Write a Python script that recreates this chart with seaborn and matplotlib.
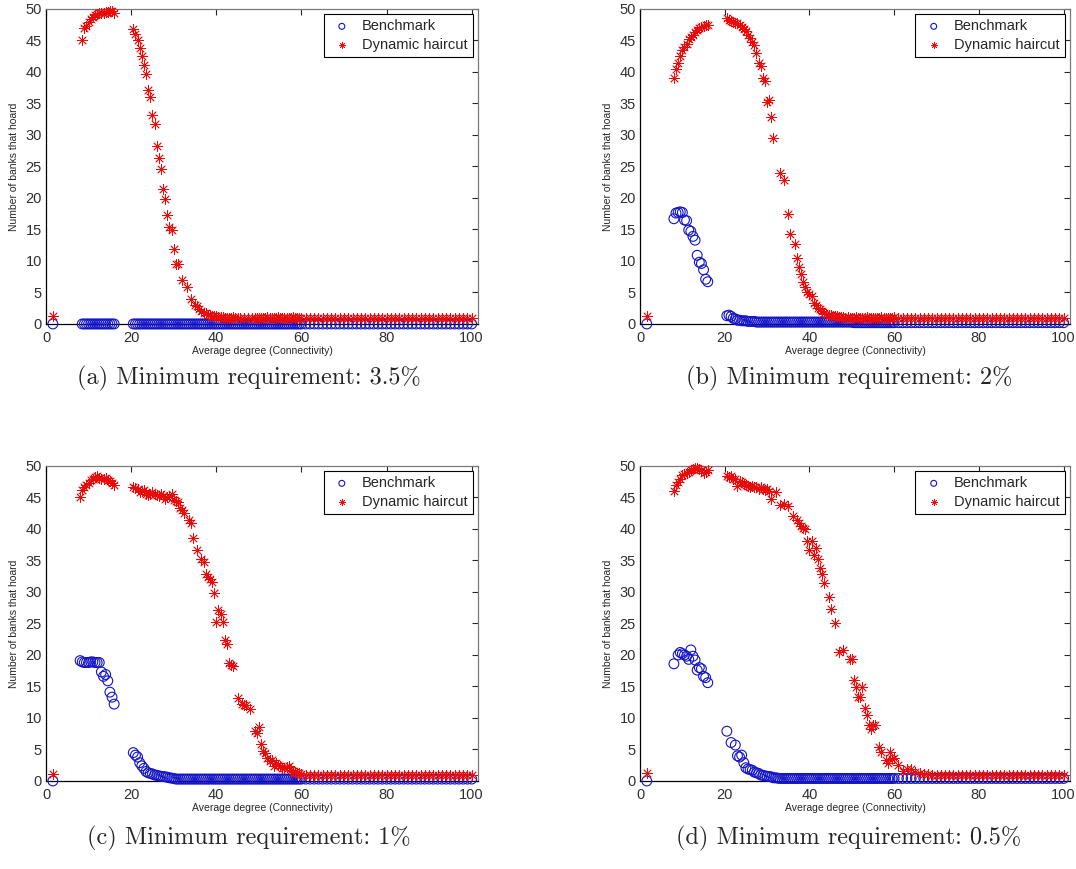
"""
Hoarding vs. connectivity: four runs with different minimum requirements.
Benchmark (circles) vs dynamic haircut (asterisks), one panel per run.
"""

import numpy as np
import matplotlib
matplotlib.use('Agg')
import matplotlib.pyplot as plt
import seaborn as sns

nan = np.nan

# =========================================================================
# Data (read off the reference picture; nan = no observation at that degree)
# =========================================================================
degree = [
    1.6,
    8.0, 8.5, 9.0, 9.5, 10.0, 10.5, 11.0, 11.5, 12.0, 12.5, 13.0, 13.5, 14.0, 14.5, 15.0, 15.5, 16.0,
    20.5, 21.0, 21.5, 22.0, 22.5, 23.0, 23.5, 24.0, 24.5, 25.0,
    25.5, 26.0, 26.5, 27.0, 27.5, 28.0, 28.5, 29.0, 29.5, 30.0,
    30.5, 31.0, 31.5, 32.0, 32.5, 33.0, 33.5, 34.0, 34.5, 35.0,
    35.5, 36.0, 36.5, 37.0, 37.5, 38.0, 38.5, 39.0, 39.5, 40.0,
    40.5, 41.0, 41.5, 42.0, 42.5, 43.0, 43.5, 44.0, 44.5, 45.0,
    45.5, 46.0, 46.5, 47.0, 47.5, 48.0, 48.5, 49.0, 49.5, 50.0,
    50.5, 51.0, 51.5, 52.0, 52.5, 53.0, 53.5, 54.0, 54.5, 55.0,
    55.5, 56.0, 56.5, 57.0, 57.5, 58.0, 58.5, 59.0, 59.5, 60.0,
    61, 62, 63, 64, 65, 66, 67, 68, 69, 70,
    71, 72, 73, 74, 75, 76, 77, 78, 79, 80,
    81, 82, 83, 84, 85, 86, 87, 88, 89, 90,
    91, 92, 93, 94, 95, 96, 97, 98, 99, 100,
]

# (a) minimum requirement 3.5%
bench_a = [
    0.0,
    nan, 0, 0, 0, 0, 0, 0, 0, 0, 0, 0, 0, 0, 0, 0, 0, 0,
    0, 0, 0, 0, 0, 0, 0, 0, 0, 0,
    0, 0, 0, 0, 0, 0, 0, 0, 0, 0,
    0, 0, 0, 0, 0, 0, 0, 0, 0, 0,
    0, 0, 0, 0, 0, 0, 0, 0, 0, 0,
    0, 0, 0, 0, 0, 0, 0, 0, 0, 0,
    0, 0, 0, 0, 0, 0, 0, 0, 0, 0,
    0, 0, 0, 0, 0, 0, 0, 0, 0, 0,
    0, 0, 0, 0, 0, 0, 0, 0, 0, 0,
    0, 0, 0, 0, 0, 0, 0, 0, 0, 0,
    0, 0, 0, 0, 0, 0, 0, 0, 0, 0,
    0, 0, 0, 0, 0, 0, 0, 0, 0, 0,
    0, 0, 0, 0, 0, 0, 0, 0, 0, 0,
]
haircut_a = [
    1.2,
    nan, 45.0, 46.9, 47.3, 47.9, 48.4, 48.8, 49.0, 49.2, 49.3, 49.4, 49.4, 49.5, 49.5, 49.6, 49.6, 49.4,
    46.8, 46.0, 45.0, 43.8, 42.5, 41.1, 39.6, 37.2, 36.1, 33.1,
    31.8, 28.2, 26.3, 24.6, 21.5, 19.8, 17.3, 15.4, 14.9, 11.9,
    9.5, 9.5, nan, 6.9, nan, 5.9, nan, 4.0, nan, 3.0,
    2.8, 2.4, 2.0, 1.8, 1.7, 1.5, 1.4, 1.3, 1.2, 1.2,
    1.1, 1.1, 1.1, 1.0, 1.0, 1.0, 1.0, 1.1, 1.0, 1.0,
    1.0, nan, 1.0, nan, 1.0, nan, 1.0, 1.0, 1.0, 1.0,
    1.0, 1.0, 1.0, 1.1, 1.0, 1.0, 1.0, 1.0, 1.1, 1.0,
    1.0, 1.0, 1.0, 1.0, 1.0, 1.1, 1.0, 1.0, 1.0, 1.0,
    1.0, 1.0, 1.0, 1.0, 1.0, 1.0, 1.0, 1.0, 1.0, 1.0,
    1.0, 1.0, 1.0, 1.0, 1.0, 1.0, 1.0, 1.0, 1.0, 1.0,
    1.0, 1.0, 1.0, 1.0, 1.0, 1.0, 1.0, 1.0, 1.0, 1.0,
    1.0, 1.0, 1.0, 1.0, 1.0, 1.0, 1.0, 1.0, 1.0, 1.0,
]

# (b) minimum requirement 2%
bench_b = [
    0.0,
    16.7, 17.6, 17.7, 17.8, 17.7, 16.5, 16.4, 14.9, 14.7, 13.9, 13.3, 10.9, 9.8, 9.6, 8.6, 7.1, 6.7,
    1.3, 1.4, 1.2, 0.9, 0.8, 0.6, 0.6, 0.5, 0.5, 0.5,
    0.4, 0.4, 0.4, 0.4, 0.3, 0.3, 0.3, 0.3, 0.3, 0.3,
    0.3, 0.3, 0.3, 0.3, 0.3, 0.3, 0.3, 0.3, 0.3, 0.3,
    0.3, 0.3, 0.3, 0.3, 0.3, 0.3, 0.3, 0.3, 0.3, 0.3,
    0.3, 0.3, 0.3, 0.3, 0.3, 0.3, 0.3, 0.3, 0.3, 0.3,
    0.3, 0.3, 0.3, 0.3, 0.3, 0.3, 0.3, 0.3, 0.3, 0.3,
    0.2, 0.2, 0.2, 0.2, 0.2, 0.2, 0.2, 0.2, 0.2, 0.2,
    0.2, 0.2, 0.2, 0.2, 0.2, 0.2, 0.2, 0.2, 0.2, 0.2,
    0.2, 0.2, 0.2, 0.2, 0.2, 0.2, 0.2, 0.2, 0.2, 0.2,
    0.2, 0.2, 0.2, 0.2, 0.2, 0.2, 0.2, 0.2, 0.2, 0.2,
    0.2, 0.2, 0.2, 0.2, 0.2, 0.2, 0.2, 0.2, 0.2, 0.2,
    0.2, 0.2, 0.2, 0.2, 0.2, 0.2, 0.2, 0.2, 0.2, 0.2,
]
haircut_b = [
    1.2,
    39.1, 40.5, 41.4, 42.6, 43.5, 43.9, 44.5, 45.2, 45.5, 45.9, 46.3, 46.7, 46.9, 47.1, 47.3, 47.4, 47.5,
    48.5, 48.2, 48.1, 47.9, 47.8, 47.7, 47.5, 47.1, 46.8, 46.5,
    45.8, 45.4, 44.8, 44.2, 43.0, 41.5, 41.0, 39.1, 38.5, 35.3,
    35.5, 32.9, 29.5, nan, nan, 23.9, nan, 22.9, nan, 17.4,
    14.2, nan, 12.7, 10.4, 9.1, 7.9, 6.7, 5.9, 5.0, 4.8,
    4.5, 3.3, 3.0, 2.5, 2.3, 2.0, 1.8, 1.6, 1.5, 1.4,
    1.3, 1.2, 1.2, 1.1, 1.1, 1.1, 1.0, 1.1, 1.0, 1.0,
    1.0, 1.1, 1.0, 1.0, 1.0, 1.0, 1.1, 1.0, 1.0, 1.0,
    1.0, 1.0, 1.0, 1.1, 1.0, 1.0, 1.0, 1.0, 1.0, 1.1,
    1.0, 1.0, 1.0, 1.0, 1.0, 1.0, 1.0, 1.0, 1.0, 1.0,
    1.0, 1.0, 1.0, 1.0, 1.0, 1.0, 1.0, 1.0, 1.0, 1.0,
    1.0, 1.0, 1.0, 1.0, 1.0, 1.0, 1.0, 1.0, 1.0, 1.0,
    1.0, 1.0, 1.0, 1.0, 1.0, 1.0, 1.0, 1.0, 1.0, 1.0,
]

# (c) minimum requirement 1%
bench_c = [
    0.0,
    19.1, 18.9, 18.8, 18.8, 18.8, 18.9, 18.9, 18.8, 18.8, 18.8, 17.3, 16.6, 16.9, 15.9, 14.1, 13.3, 12.2,
    4.5, 4.1, 3.8, 2.9, 2.4, 2.0, 1.5, 1.3, 1.2, 1.1,
    0.95, 0.9, 0.8, 0.75, 0.7, 0.65, 0.6, 0.5, 0.45, 0.4,
    0.3, 0.3, 0.3, 0.3, 0.3, 0.3, 0.3, 0.3, 0.3, 0.3,
    0.3, 0.3, 0.3, 0.3, 0.3, 0.3, 0.3, 0.3, 0.3, 0.3,
    0.3, 0.3, 0.3, 0.3, 0.3, 0.3, 0.3, 0.3, 0.3, 0.3,
    0.3, 0.3, 0.3, 0.3, 0.3, 0.3, 0.3, 0.3, 0.3, 0.3,
    0.3, 0.3, 0.3, 0.3, 0.3, 0.3, 0.3, 0.3, 0.3, 0.3,
    0.3, 0.3, 0.3, 0.3, 0.3, 0.3, 0.3, 0.3, 0.3, 0.3,
    0.3, 0.3, 0.3, 0.3, 0.3, 0.3, 0.3, 0.3, 0.3, 0.3,
    0.3, 0.3, 0.3, 0.3, 0.3, 0.3, 0.3, 0.3, 0.3, 0.3,
    0.3, 0.3, 0.3, 0.3, 0.3, 0.3, 0.3, 0.3, 0.3, 0.3,
    0.3, 0.3, 0.3, 0.3, 0.3, 0.3, 0.3, 0.3, 0.3, 0.3,
]
haircut_c = [
    1.1,
    45.0, 46.2, 46.6, 46.9, 47.3, 47.7, 48.0, 48.2, 48.4, 48.1, 47.9, 47.9, 48.1, 47.7, 47.6, 47.3, 46.9,
    46.6, 46.5, 46.3, 45.9, 46.0, 46.2, 45.6, 45.4, 45.6, 45.9,
    45.6, 45.4, 45.2, 45.5, 45.2, 44.8, 45.1, 45.3, 45.5, 44.6,
    44.4, 44.2, 43.3, 43.0, 42.5, nan, 41.5, 41.0, 38.5, nan,
    36.7, nan, 35.3, 34.8, 32.8, 32.4, 32.1, 31.6, 29.8, 25.2,
    27.1, 26.5, 25.2, 22.3, 21.8, 18.7, 18.4, 18.2, nan, 13.1,
    nan, 12.2, 12.1, 12.0, nan, 11.4, nan, 7.9, 7.6, 8.6,
    5.8, 4.7, 4.4, 3.7, 3.1, 3.3, 2.3, 2.8, 2.5, 2.3,
    2.1, 2.0, 2.2, 2.3, 1.7, 1.6, 1.5, 1.3, 1.2, 1.1,
    1.0, 1.0, 1.0, 1.0, 1.0, 1.0, 1.0, 1.0, 1.0, 1.0,
    1.0, 1.0, 1.0, 1.0, 1.0, 1.0, 1.0, 1.0, 1.0, 1.0,
    1.0, 1.0, 1.0, 1.0, 1.0, 1.0, 1.0, 1.0, 1.0, 1.0,
    1.0, 1.0, 1.0, 1.0, 1.0, 1.0, 1.0, 1.0, 1.0, 1.0,
]

# (d) minimum requirement 0.5%
bench_d = [
    0.0,
    18.6, nan, 20.0, 20.4, 20.2, 20.0, 19.8, 19.3, 20.8, 19.8, 19.2, 17.6, 18.0, 17.8, 16.6, 16.4, 15.6,
    7.9, nan, 6.1, nan, 5.7, 4.0, 3.8, 4.1, 2.9, 2.1,
    1.9, 1.8, 1.7, 1.4, 1.3, 1.2, 0.95, 0.9, 0.8, 0.75,
    0.7, 0.65, 0.5, 0.5, 0.45, 0.4, 0.4, 0.4, 0.4, 0.4,
    0.4, 0.4, 0.4, 0.4, 0.4, 0.4, 0.4, 0.4, 0.4, 0.4,
    0.4, 0.4, 0.4, 0.4, 0.4, 0.4, 0.4, 0.4, 0.4, 0.4,
    0.4, 0.4, 0.4, 0.4, 0.4, 0.4, 0.4, 0.4, 0.4, 0.4,
    0.4, 0.4, 0.4, 0.4, 0.4, 0.4, 0.4, 0.4, 0.4, 0.4,
    0.4, 0.4, 0.4, 0.4, 0.4, 0.4, 0.4, 0.4, 0.4, 0.4,
    0.4, 0.4, 0.4, 0.4, 0.4, 0.4, 0.4, 0.4, 0.4, 0.4,
    0.4, 0.4, 0.4, 0.4, 0.4, 0.4, 0.4, 0.4, 0.4, 0.4,
    0.4, 0.4, 0.4, 0.4, 0.4, 0.4, 0.4, 0.4, 0.4, 0.4,
    0.4, 0.4, 0.4, 0.4, 0.4, 0.4, 0.4, 0.4, 0.4, 0.4,
]
haircut_d = [
    1.2,
    46.0, 47.0, 47.5, 48.0, 48.5, 48.8, 48.9, 49.1, 49.3, 49.5, 49.7, 49.6, 49.5, 49.3, 48.9, 49.1, 49.3,
    48.4, 48.3, 48.4, 48.0, 47.9, 46.8, 47.6, 47.4, 47.1, 46.9,
    46.8, 46.6, 46.8, 46.7, 46.6, 46.3, 46.7, 46.4, 46.2, 46.3,
    46.1, 44.7, nan, 45.8, nan, 43.8, nan, 43.9, nan, 43.6,
    nan, 42.0, nan, 41.5, 41.0, 40.4, 40.1, 40.0, 38.1, 36.7,
    38.1, 35.8, 36.9, 35.2, 33.8, 32.9, 31.5, nan, 29.2, 27.3,
    nan, 25.1, nan, 20.4, nan, 20.8, nan, nan, 19.3, 19.3,
    16.1, 14.9, 13.4, 13.3, 14.9, 11.6, 10.4, 8.9, 8.3, 8.9,
    8.9, nan, 5.4, 4.6, nan, 3.3, 2.9, 4.6, 3.5, 3.6,
    2.5, 1.6, 1.9, 1.9, 1.5, 1.2, 1.1, 1.1, 1.0, 1.0,
    1.0, 1.0, 1.0, 1.0, 1.0, 1.0, 1.0, 1.0, 1.0, 1.0,
    1.0, 1.0, 1.0, 1.0, 1.0, 1.0, 1.0, 1.0, 1.0, 1.0,
    1.0, 1.0, 1.0, 1.0, 1.0, 1.0, 1.0, 1.0, 1.0, 1.0,
]

captions = [
    '(a) Minimum requirement: 3.5%',
    '(b) Minimum requirement: 2%',
    '(c) Minimum requirement: 1%',
    '(d) Minimum requirement: 0.5%',
]
xticks = [0, 20, 40, 60, 80, 100]
yticks = [0, 5, 10, 15, 20, 25, 30, 35, 40, 45, 50]

BLUE = '#1414c8'
RED = '#e80c0c'
ASTERISK = (8, 2, 0)   # MATLAB-style '*' marker


def draw_panel(ax, bench, haircut):
    """One MATLAB-looking scatter panel."""
    sns.scatterplot(x=degree, y=bench, ax=ax, marker='o', s=50,
                    color=BLUE, facecolor='none', edgecolor=BLUE,
                    linewidth=0.8, clip_on=False, zorder=3,
                    label='Benchmark', legend=False)
    sns.scatterplot(x=degree, y=haircut, ax=ax, marker=ASTERISK, s=50,
                    color=RED, linewidth=0.6, clip_on=False, zorder=4,
                    label='Dynamic haircut', legend=False)

    ax.set_xlim(0, 101.5)
    ax.set_ylim(0, 50)
    ax.set_xticks(xticks)
    ax.set_yticks(yticks)
    ax.tick_params(direction='in', top=True, right=True, length=4, width=0.8,
                   labelsize=10.5, labelcolor='#303030')
    ax.tick_params(axis='x', pad=5)
    ax.tick_params(axis='y', pad=3)

    for side in ['left', 'bottom']:
        ax.spines[side].set_color('black')
        ax.spines[side].set_linewidth(0.9)
    for side in ['top', 'right']:
        ax.spines[side].set_color('#7a7a7a')
        ax.spines[side].set_linewidth(0.9)

    ax.set_xlabel('Average degree (Connectivity)', fontsize=7.5, labelpad=1)
    ax.set_ylabel('Number of banks that hoard', fontsize=7.5, labelpad=5)

    leg = ax.legend(loc='upper right', fontsize=10.5, frameon=True, fancybox=False,
                    edgecolor='black', framealpha=1, borderaxespad=0.35,
                    borderpad=0.35, labelspacing=0.3, handlelength=1.8,
                    handletextpad=0.5, markerscale=0.6)
    leg.get_frame().set_linewidth(0.8)


# =========================================================================
# Figure
# =========================================================================
sns.set_style('white')
plt.rcParams['font.family'] = ['Liberation Sans', 'DejaVu Sans']

fig = plt.figure(figsize=(10.76, 8.69), dpi=100)

positions = [
    [0.0428, 0.6272, 0.4015, 0.3625],
    [0.5948, 0.6272, 0.3996, 0.3625],
    [0.0428, 0.1013, 0.4015, 0.3625],
    [0.5948, 0.1013, 0.3996, 0.3625],
]
series = [(bench_a, haircut_a), (bench_b, haircut_b),
          (bench_c, haircut_c), (bench_d, haircut_d)]
caption_xy = [(0.2315, 0.565), (0.789, 0.565), (0.2315, 0.0357), (0.789, 0.0357)]

for pos, (bench, haircut), cap, (cx, cy) in zip(positions, series, captions, caption_xy):
    ax = fig.add_axes(pos)
    draw_panel(ax, bench, haircut)
    fig.text(cx, cy, cap, family=['cmr10', 'DejaVu Serif'], fontsize=17.5,
             ha='center', va='center')

fig.savefig('out.png', dpi=100)
plt.close(fig)
